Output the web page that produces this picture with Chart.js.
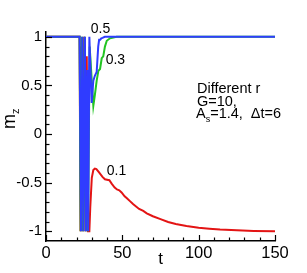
<!DOCTYPE html>
<html>
<head>
<meta charset="utf-8">
<script src="https://cdn.jsdelivr.net/npm/chart.js@4/dist/chart.umd.min.js"></script>
<style>
html,body{margin:0;padding:0;background:#fff;}
#wrap{width:307px;height:273px;}
</style>
</head>
<body>
<div id="wrap"><canvas id="c" width="307" height="273"></canvas></div>
<script>
// r = 0.5 (blue)
const t05 = [0, 22, 22.9, 23.8, 24.5, 25.5, 26.2, 27.0, 27.7, 28.4, 29.9, 31.0, 32.0, 33.2, 34.2, 34.8, 35.5, 36.2, 37.0, 38.5, 150];
const m05 = [1, 1, -1, 1, -1, 1, -1, 0.66, -1, 1, 0.32, 0.55, 0.6, 0.64, 0.9, 0.97, 0.97, 0.985, 0.99, 1, 1];
// r = 0.3 (green)
const t03 = [0, 22, 22.7, 23.6, 24.3, 25.3, 26.0, 26.8, 27.5, 28.6, 31.0, 32.0, 33.2, 34.3, 35.4, 36.5, 37.5, 38.6, 39.8, 41.9, 46.3, 150];
const m03 = [1, 1, -1, 1, -1, 1, -1, 0.5, -1, 0.9, 0.29, 0.4, 0.55, 0.65, 0.67, 0.78, 0.8, 0.9, 0.96, 0.985, 1, 1];
// r = 0.1 (red)
const t01 = [0, 22, 22.6, 23.4, 24.1, 25.0, 25.8, 26.7, 27.5, 28.4, 29.0, 30.0, 31.0, 32.0, 33.0, 34.5, 36.0, 37.0, 38.6, 40.0, 41.5, 43.0, 45.0, 46.5, 48.0, 49.5, 51.5, 53.0, 55.0, 57.0, 59.4, 61.0, 63.7, 66.0, 70.0, 75.0, 80.0, 85.0, 92.0, 100.0, 107.0, 114.0, 125.0, 136.0, 150.0];
const m01 = [1, 1, -1, 0.9, -1, 1, -1, 0.8, -1, -1, -0.75, -0.45, -0.37, -0.355, -0.36, -0.39, -0.42, -0.44, -0.465, -0.47, -0.475, -0.51, -0.55, -0.57, -0.578, -0.6, -0.64, -0.66, -0.69, -0.72, -0.75, -0.77, -0.79, -0.815, -0.845, -0.875, -0.905, -0.925, -0.946, -0.963, -0.973, -0.982, -0.99, -0.996, -1];

const xTicks = [0, 50, 100, 150];
const yTicks = [-1, -0.5, 0, 0.5, 1];
const seriesLabels = ['0.5', '0.3', '0.1'];
const noteLines = ['Different r', 'G=10,'];

function pts(ts, ms){ return ts.map((t,i)=>({x:t, y:ms[i]})); }

const FONT = '"Liberation Sans", Arial, Helvetica, sans-serif';

const overlay = {
  id: 'overlay',
  afterDraw(chart){
    const ctx = chart.ctx, xs = chart.scales.x, ys = chart.scales.y, a = chart.chartArea;
    ctx.save();
    ctx.strokeStyle = '#000';
    ctx.lineWidth = 1.2;
    // x ticks (inward)
    for (let v = 0; v <= 150; v += 10) {
      const px = Math.round(xs.getPixelForValue(v)) + 0.5;
      const len = (v % 50 === 0) ? 6 : 3.5;
      ctx.beginPath(); ctx.moveTo(px, a.bottom); ctx.lineTo(px, a.bottom - len); ctx.stroke();
    }
    // y ticks (inward)
    for (let k = -10; k <= 10; k++) {
      const v = k / 10;
      const py = Math.round(ys.getPixelForValue(v)) + 0.5;
      const len = (k % 5 === 0) ? 6 : 3.5;
      ctx.beginPath(); ctx.moveTo(a.left, py); ctx.lineTo(a.left + len, py); ctx.stroke();
    }
    ctx.fillStyle = '#000';
    ctx.textBaseline = 'alphabetic';
    ctx.textAlign = 'left';
    // series labels
    ctx.font = '14px ' + FONT;
    ctx.fillText(seriesLabels[0], xs.getPixelForValue(29.3), ys.getPixelForValue(1.043));
    ctx.fillText(seriesLabels[1], xs.getPixelForValue(39.1), ys.getPixelForValue(0.717));
    ctx.fillText(seriesLabels[2], xs.getPixelForValue(39.8), ys.getPixelForValue(-0.425));
    // note
    const nx = xs.getPixelForValue(98.9);
    ctx.font = '14.5px ' + FONT;
    ctx.fillText(noteLines[0], nx, ys.getPixelForValue(0.426));
    ctx.fillText(noteLines[1], nx, ys.getPixelForValue(0.289));
    const by = ys.getPixelForValue(0.162);
    let x = nx - 1;
    ctx.fillText('A', x, by); x += ctx.measureText('A').width;
    ctx.font = '9px ' + FONT;
    ctx.fillText('s', x, by + 3.5); x += ctx.measureText('s').width;
    ctx.font = '14.5px ' + FONT;
    ctx.fillText('=1.4,  \u0394t=6', x, by);
    // axis titles
    ctx.font = '17px ' + FONT;
    ctx.textAlign = 'center';
    ctx.fillText('t', xs.getPixelForValue(75), 264);
    // y title rotated
    ctx.save();
    ctx.translate(15, 129);
    ctx.rotate(-Math.PI/2);
    ctx.textAlign = 'left';
    ctx.font = '18px ' + FONT;
    ctx.fillText('m', 0, 0);
    const mw = ctx.measureText('m').width;
    ctx.font = '11px ' + FONT;
    ctx.fillText('z', mw, 4);
    ctx.restore();
    ctx.restore();
  }
};

new Chart(document.getElementById('c'), {
  type: 'line',
  data: {
    datasets: [
      { label: 'r=0.5', data: pts(t05, m05), borderColor: '#2f3cff', borderWidth: 2, pointRadius: 0, tension: 0 },
      { label: 'r=0.3', data: pts(t03, m03), borderColor: '#22c422', borderWidth: 2, pointRadius: 0, tension: 0 },
      { label: 'r=0.1', data: pts(t01, m01), borderColor: '#e31414', borderWidth: 2, pointRadius: 0, tension: 0 }
    ]
  },
  options: {
    responsive: false,
    animation: false,
    devicePixelRatio: 1,
    layout: { padding: { left: 0, right: 32, top: 32, bottom: 0 } },
    plugins: { legend: { display: false }, tooltip: { enabled: false } },
    scales: {
      x: {
        type: 'linear', min: 0, max: 150,
        afterBuildTicks: s => { s.ticks = xTicks.map(v => ({value: v})); },
        afterFit: s => { s.height = 32; s.paddingLeft = 0; s.paddingRight = 0; },
        grid: { display: false, drawTicks: false },
        border: { display: true, color: '#000', width: 1.5 },
        ticks: { color: '#000', padding: 3, maxRotation: 0, font: { family: FONT, size: 16.5 }, callback: v => String(v) }
      },
      y: {
        type: 'linear', min: -1.1, max: 1.05,
        afterBuildTicks: s => { s.ticks = yTicks.map(v => ({value: v})); },
        afterFit: s => { s.width = 46; s.paddingTop = 0; s.paddingBottom = 0; },
        grid: { display: false, drawTicks: false },
        border: { display: true, color: '#000', width: 1.5 },
        ticks: { color: '#000', padding: 4, font: { family: FONT, size: 15 }, callback: v => String(v) }
      }
    }
  },
  plugins: [overlay]
});
</script>
</body>
</html>
